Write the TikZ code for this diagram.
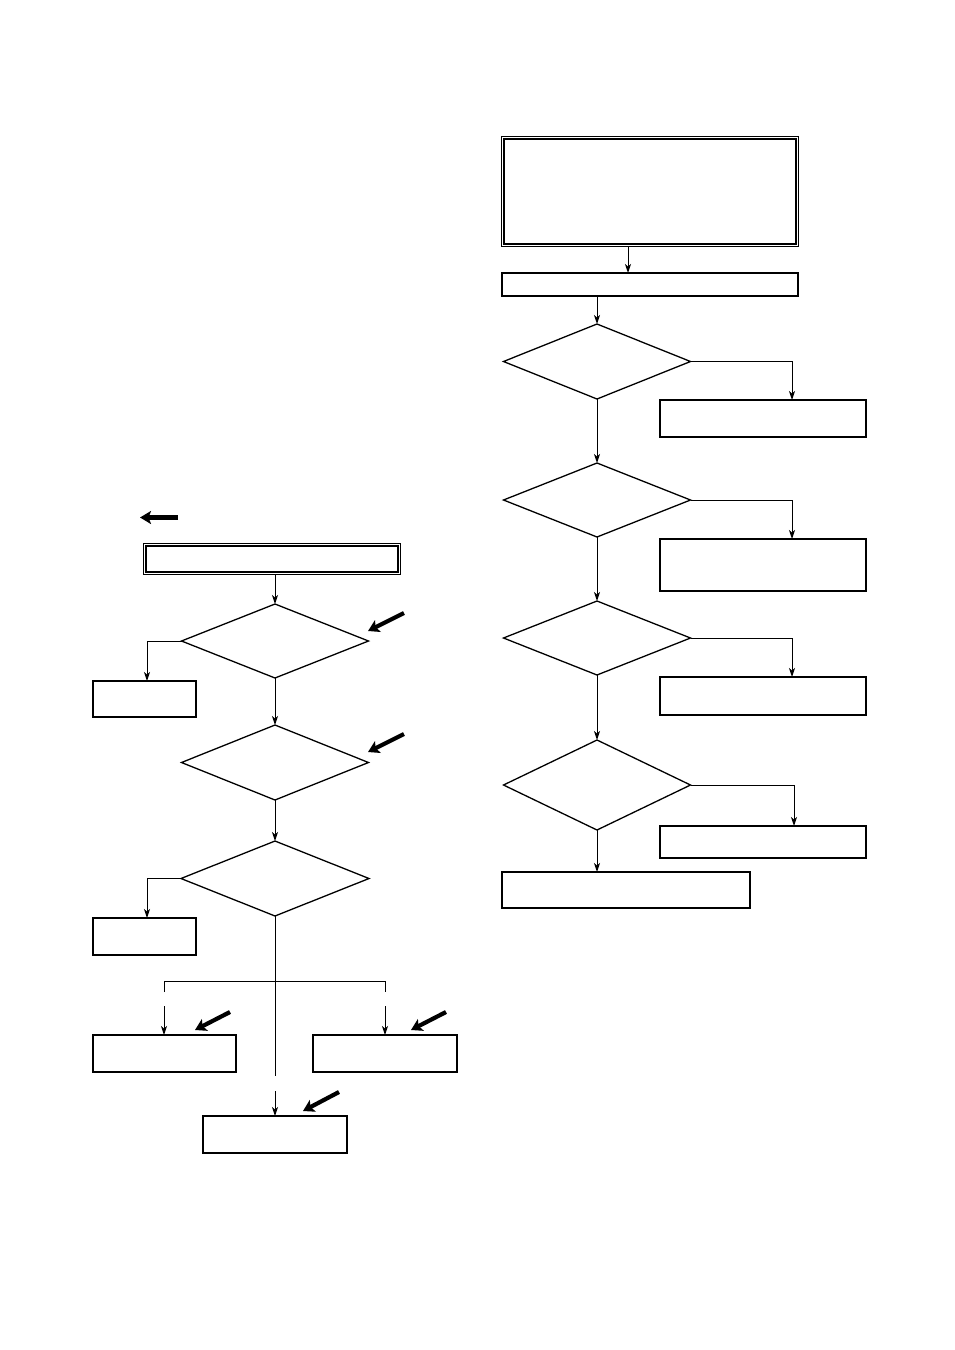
\documentclass[tikz,border=0pt]{standalone}
\usetikzlibrary{arrows.meta,shapes.geometric,fit,calc}
\begin{document}
\begin{tikzpicture}[x=1pt,y=-1pt,
  box/.style={draw,line width=1.8pt,inner sep=0pt,outer sep=0pt},
  dbox/.style={draw,line width=1.2pt,inner sep=2.2pt,outer sep=0pt},
  dia/.style={draw,diamond,line width=1.3pt,inner sep=0pt,outer sep=0pt},
  conn/.style={line width=1pt,-{Stealth[length=9pt,width=6pt,inset=2.5pt]}},
  line/.style={line width=1pt},
  fat/.style={line width=4.2pt,-{Stealth[length=11pt,width=13pt,inset=2.5pt]}}]
\useasboundingbox (0,0) rectangle (954,1350);

% ---------- right column ----------
\node[box,minimum width=292pt,minimum height=105pt] (top) at (650,191.5) {};
\node[dbox,fit=(top)] (topout) {};
\node[box,minimum width=296pt,minimum height=23pt] (box2) at (650,284.5) {};
\node[dia,minimum width=187pt,minimum height=75pt] (d1) at (597,361.5) {};
\node[dia,minimum width=187pt,minimum height=74pt] (d2) at (597,500) {};
\node[dia,minimum width=187pt,minimum height=74pt] (d3) at (597,638) {};
\node[dia,minimum width=187pt,minimum height=90pt] (d4) at (597,785) {};
\node[box,minimum width=206pt,minimum height=37pt] (r1) at (763,418.5) {};
\node[box,minimum width=206pt,minimum height=52pt] (r2) at (763,565) {};
\node[box,minimum width=206pt,minimum height=38pt] (r3) at (763,696) {};
\node[box,minimum width=206pt,minimum height=32pt] (r4) at (763,842) {};
\node[box,minimum width=248pt,minimum height=36pt] (rb) at (626,890) {};

\draw[conn] ([xshift=-22pt]topout.south) -- ([xshift=-22pt]topout.south |- box2.north);
\draw[conn] (box2.south -| d1.north) -- (d1.north);
\draw[conn] (d1.south) -- (d2.north);
\draw[conn] (d2.south) -- (d3.north);
\draw[conn] (d3.south) -- (d4.north);
\draw[conn] (d4.south) -- (d4.south |- rb.north);
\draw[conn] (d1.east) -| ([xshift=29pt]r1.north);
\draw[conn] (d2.east) -| ([xshift=29pt]r2.north);
\draw[conn] (d3.east) -| ([xshift=29pt]r3.north);
\draw[conn] (d4.east) -| ([xshift=31pt]r4.north);

% ---------- left column ----------
\coordinate (la1) at (178,517.5);
\coordinate (la2) at (140,517.5);
\draw[fat] (la1) -- (la2);

\node[box,minimum width=252pt,minimum height=26pt] (ltop) at (272,559) {};
\node[dbox,fit=(ltop)] (ltopout) {};
\node[dia,minimum width=187pt,minimum height=74pt] (A) at (275,641) {};
\node[dia,minimum width=187pt,minimum height=75pt] (B) at (275,762.5) {};
\node[dia,minimum width=188pt,minimum height=75pt] (C) at (275,878.5) {};
\node[box,minimum width=103pt,minimum height=36pt] (la) at (144.5,699) {};
\node[box,minimum width=103pt,minimum height=37pt] (lc) at (144.5,936.5) {};
\node[box,minimum width=143pt,minimum height=37pt] (ll) at (164.5,1053.5) {};
\node[box,minimum width=144pt,minimum height=37pt] (lr) at (385,1053.5) {};
\node[box,minimum width=144pt,minimum height=37pt] (lb) at (275,1134.5) {};

\draw[conn] (A.north |- ltopout.south) -- (A.north);
\draw[conn] (A.south) -- (B.north);
\draw[conn] (B.south) -- (C.north);
\draw[conn] (A.west) -| ([xshift=2.5pt]la.north);
\draw[conn] (C.west) -| ([xshift=2.5pt]lc.north);

\coordinate (jn) at (275,981);
\coordinate (cend) at (275,1076);
\coordinate (cres) at (275,1091);
\coordinate (jl) at (164,981);
\coordinate (jr) at (385,981);
\coordinate (jle) at (164,992);
\coordinate (jre) at (385,992);
\coordinate (lls) at (164,1006);
\coordinate (lrs) at (385,1006);
\draw[line] (C.south) -- (cend);
\draw[line] (jle) -- (jl) -- (jr) -- (jre);
\draw[conn] (lls) -- (lls |- ll.north);
\draw[conn] (lrs) -- (lrs |- lr.north);
\draw[conn] (cres) -- (lb.north);

% fat pointer arrows
\coordinate (fa1) at (404,613); \coordinate (fa2) at (368,631);
\coordinate (fb1) at (404,734); \coordinate (fb2) at (368,752);
\coordinate (fc1) at (230,1012); \coordinate (fc2) at (195,1030);
\coordinate (fd1) at (446,1012); \coordinate (fd2) at (411,1030);
\coordinate (fe1) at (339,1092); \coordinate (fe2) at (303,1111);
\draw[fat] (fa1) -- (fa2);
\draw[fat] (fb1) -- (fb2);
\draw[fat] (fc1) -- (fc2);
\draw[fat] (fd1) -- (fd2);
\draw[fat] (fe1) -- (fe2);
\end{tikzpicture}
\end{document}
